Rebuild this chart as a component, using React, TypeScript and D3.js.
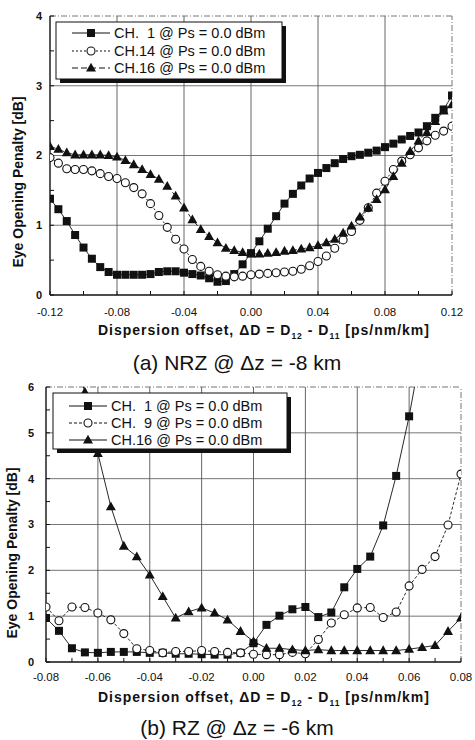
import * as d3 from "d3"

// ---- data (a) NRZ @ dz = -8 km ----
const xsA = d3.range(49).map((i) => -0.12 + i * 0.005)
const ch1A = [1.38, 1.23, 1.06, 0.86, 0.68, 0.52, 0.4, 0.33, 0.29, 0.29, 0.29, 0.29, 0.3, 0.33, 0.34, 0.34, 0.32, 0.3, 0.28, 0.24, 0.19, 0.2, 0.3, 0.44, 0.6, 0.77, 0.95, 1.13, 1.31, 1.45, 1.57, 1.67, 1.75, 1.82, 1.89, 1.95, 1.99, 2.01, 2.04, 2.07, 2.12, 2.17, 2.23, 2.28, 2.33, 2.42, 2.54, 2.66, 2.86]
const ch14A = [1.97, 1.89, 1.81, 1.8, 1.8, 1.78, 1.74, 1.7, 1.67, 1.61, 1.54, 1.45, 1.31, 1.14, 0.97, 0.8, 0.66, 0.51, 0.41, 0.34, 0.29, 0.27, 0.26, 0.27, 0.29, 0.3, 0.31, 0.32, 0.33, 0.34, 0.37, 0.42, 0.48, 0.56, 0.67, 0.79, 0.91, 1.07, 1.25, 1.46, 1.63, 1.8, 1.92, 2.01, 2.11, 2.21, 2.29, 2.35, 2.42]
const ch16A = [2.13, 2.09, 2.04, 2.01, 2.01, 2.01, 2.01, 2.0, 1.98, 1.93, 1.87, 1.8, 1.73, 1.66, 1.56, 1.42, 1.25, 1.08, 0.94, 0.84, 0.75, 0.67, 0.64, 0.61, 0.59, 0.59, 0.6, 0.61, 0.63, 0.64, 0.66, 0.68, 0.71, 0.75, 0.8, 0.89, 0.99, 1.12, 1.25, 1.37, 1.51, 1.7, 1.89, 2.06, 2.21, 2.33, 2.49, 2.64, 2.73]
const ticksXA = [-0.12, -0.08, -0.04, 0, 0.04, 0.08, 0.12]
const ticksYA = [0, 1, 2, 3, 4]

// ---- data (b) RZ @ dz = -6 km ----
const xsB = d3.range(33).map((i) => -0.08 + i * 0.005)
const ch1B = [0.96, 0.68, 0.3, 0.21, 0.2, 0.22, 0.22, 0.22, 0.2, 0.2, 0.18, 0.18, 0.17, 0.16, 0.16, 0.2, 0.41, 0.81, 1.01, 1.15, 1.2, 0.98, 1.08, 1.63, 2.03, 2.3, 2.98, 4.06, 5.36, 6.9]
const ch9B = [1.2, 0.9, 1.2, 1.19, 1.07, 0.92, 0.62, 0.29, 0.25, 0.2, 0.23, 0.23, 0.25, 0.23, 0.21, 0.2, 0.17, 0.16, 0.16, 0.21, 0.18, 0.49, 0.85, 1.03, 1.18, 1.19, 0.97, 1.09, 1.66, 2.02, 2.3, 2.99, 4.1]
const ch16B = [null, null, 6.8, 5.89, 4.55, 3.39, 2.53, 2.3, 1.9, 1.43, 0.96, 1.1, 1.18, 1.07, 0.92, 0.67, 0.45, 0.3, 0.3, 0.27, 0.25, 0.27, 0.25, 0.25, 0.25, 0.25, 0.25, 0.25, 0.28, 0.32, 0.36, 0.67, 0.96]
const ticksXB = [-0.08, -0.06, -0.04, -0.02, 0, 0.02, 0.04, 0.06, 0.08]
const ticksYB = [0, 1, 2, 3, 4, 5, 6]

type Pt = { x: number; y: number }
type Series = { label: string; values: (number | null)[]; marker: "square" | "circle" | "triangle"; dash: string }

const seriesA: Series[] = [
  { label: "CH.  1 @ Ps = 0.0 dBm", values: ch1A, marker: "square", dash: "none" },
  { label: "CH.14 @ Ps = 0.0 dBm", values: ch14A, marker: "circle", dash: "2,2" },
  { label: "CH.16 @ Ps = 0.0 dBm", values: ch16A, marker: "triangle", dash: "6,3" },
]
const seriesB: Series[] = [
  { label: "CH.  1 @ Ps = 0.0 dBm", values: ch1B, marker: "square", dash: "none" },
  { label: "CH.  9 @ Ps = 0.0 dBm", values: ch9B, marker: "circle", dash: "3,2" },
  { label: "CH.16 @ Ps = 0.0 dBm", values: ch16B, marker: "triangle", dash: "none" },
]

const FONT = "'Liberation Sans', Arial, sans-serif"

function Marker({ kind, x, y, s }: { kind: string; x: number; y: number; s: number }) {
  if (kind === "square") return <rect x={x - s / 2} y={y - s / 2} width={s} height={s} fill="#111" />
  if (kind === "circle") return <circle cx={x} cy={y} r={s / 2} fill="#fff" stroke="#111" strokeWidth={1.1} />
  return <path d={`M${x},${y - s * 0.65}L${x + s * 0.62},${y + s * 0.45}L${x - s * 0.62},${y + s * 0.45}Z`} fill="#111" />
}

function Panel(props: {
  id: string
  xs: number[]
  series: Series[]
  xDomain: [number, number]
  yDomain: [number, number]
  xRange: [number, number]
  yRange: [number, number]
  xTicks: number[]
  yTicks: number[]
  xMinorStep: number
  yMinorStep: number
  mSize: number
  legend: { x: number; y: number; w: number; h: number; rowY: number[] }
  yLabelX: number
  xTickY: number
  xTitleY: number
  yTitleX: number
  yTitleY: number
  caption: string
  captionY: number
}) {
  const { xs, series, xTicks, yTicks } = props
  const x = d3.scaleLinear().domain(props.xDomain).range(props.xRange)
  const y = d3.scaleLinear().domain(props.yDomain).range(props.yRange)
  const [x0, x1] = props.xRange
  const [y0, y1] = props.yRange
  const line = d3
    .line<Pt>()
    .x((d) => x(d.x))
    .y((d) => y(d.y))
  const minorX = d3.range(props.xDomain[0], props.xDomain[1] + 1e-9, props.xMinorStep)
  const minorY = d3.range(props.yDomain[0], props.yDomain[1] + 1e-9, props.yMinorStep)
  const lg = props.legend
  return (
    <g fontFamily={FONT}>
      <defs>
        <clipPath id={`clip-${props.id}`}>
          <rect x={x0} y={y1} width={x1 - x0} height={y0 - y1} />
        </clipPath>
      </defs>
      {/* grid */}
      {yTicks.slice(1, -1).map((t) => (
        <line key={`gy${t}`} x1={x0} x2={x1} y1={y(t)} y2={y(t)} stroke="#666" strokeWidth={0.9} />
      ))}
      {xTicks.slice(1, -1).map((t) => (
        <line key={`gx${t}`} x1={x(t)} x2={x(t)} y1={y0} y2={y1} stroke="#555" strokeWidth={0.9} />
      ))}
      {/* frame */}
      <line x1={x0} x2={x1} y1={y1} y2={y1} stroke="#777" strokeDasharray="6,2,1,2" />
      <line x1={x1} x2={x1} y1={y0} y2={y1} stroke="#777" strokeDasharray="6,2,1,2" />
      <line x1={x0} x2={x0} y1={y0} y2={y1} stroke="#111" strokeWidth={1.4} />
      <line x1={x0} x2={x1} y1={y0} y2={y0} stroke="#111" strokeWidth={1.4} />
      {minorX.map((t, i) => (
        <line key={`mx${i}`} x1={x(t)} x2={x(t)} y1={y0} y2={y0 - 4} stroke="#111" />
      ))}
      {minorY.map((t, i) => (
        <line key={`my${i}`} x1={x0} x2={x0 + 4} y1={y(t)} y2={y(t)} stroke="#111" />
      ))}
      {/* series */}
      <g clipPath={`url(#clip-${props.id})`}>
        {series.map((s) => {
          const pts: Pt[] = xs
            .map((xv, i) => ({ x: xv, y: s.values[i] as number }))
            .filter((p) => p.y !== null && p.y !== undefined)
          return (
            <g key={s.label}>
              <path d={line(pts) ?? ""} fill="none" stroke="#111" strokeWidth={0.9} strokeDasharray={s.dash} />
              {pts.map((p, i) => (
                <Marker key={i} kind={s.marker} x={x(p.x)} y={y(p.y)} s={props.mSize} />
              ))}
            </g>
          )
        })}
      </g>
      {/* legend */}
      <rect x={lg.x + 4} y={lg.y + 4} width={lg.w} height={lg.h} fill="#111" />
      <rect x={lg.x} y={lg.y} width={lg.w} height={lg.h} fill="#fff" stroke="#111" strokeWidth={1} />
      {series.map((s, i) => (
        <g key={`lg${i}`}>
          <line x1={lg.x + 16} x2={lg.x + 54} y1={lg.rowY[i]} y2={lg.rowY[i]} stroke="#111" strokeWidth={1} strokeDasharray={s.dash} />
          <Marker kind={s.marker} x={lg.x + 35} y={lg.rowY[i]} s={props.mSize} />
          <text x={lg.x + 58} y={lg.rowY[i]} dy="0.36em" fontSize={14.5} style={{ whiteSpace: "pre" }} fill="#111">
            {s.label}
          </text>
        </g>
      ))}
      {/* tick labels */}
      {yTicks.map((t) => (
        <text key={`yl${t}`} x={props.yLabelX} y={y(t)} dy="0.35em" textAnchor="end" fontSize={11} fontWeight="bold" fill="#111">
          {t}
        </text>
      ))}
      {xTicks.map((t) => (
        <text key={`xl${t}`} x={x(t)} y={props.xTickY} dy="0.35em" textAnchor="middle" fontSize={11.5} fill="#111">
          {t.toFixed(2)}
        </text>
      ))}
      {/* axis titles */}
      <text x={264} y={props.xTitleY} textAnchor="middle" fontSize={14} fontWeight="bold" letterSpacing={1} fill="#111" style={{ whiteSpace: "pre" }}>
        {"Dispersion offset, \u0394D = D"}
        <tspan fontSize={8.5} dy={4}>12</tspan>
        <tspan dy={-4}>{" - D"}</tspan>
        <tspan fontSize={8.5} dy={4}>11</tspan>
        <tspan dy={-4}>{" [ps/nm/km]"}</tspan>
      </text>
      <text
        transform={`translate(${props.yTitleX},${props.yTitleY}) rotate(-90)`}
        textAnchor="middle"
        dy="0.35em"
        fontSize={14}
        fontWeight="bold"
        fill="#111"
      >
        Eye Opening Penalty [dB]
      </text>
      <text x={237} y={props.captionY} dy="0.35em" textAnchor="middle" fontSize={21} fill="#111">
        {props.caption}
      </text>
    </g>
  )
}

export default function App() {
  return (
    <svg width={475} height={740} style={{ position: "absolute", left: 0, top: 0, background: "#fff" }}>
      <rect width={475} height={740} fill="#fff" />
      <Panel
        id="a"
        xs={xsA}
        series={seriesA}
        xDomain={[-0.12, 0.12]}
        yDomain={[0, 4]}
        xRange={[50, 452]}
        yRange={[295, 16]}
        xTicks={ticksXA}
        yTicks={ticksYA}
        xMinorStep={0.02}
        yMinorStep={0.5}
        mSize={8}
        legend={{ x: 56, y: 22, w: 226, h: 57, rowY: [33, 51, 68] }}
        yLabelX={42}
        xTickY={312}
        xTitleY={335}
        yTitleX={18}
        yTitleY={182}
        caption={"(a) NRZ @ \u0394z = -8 km"}
        captionY={363}
      />
      <Panel
        id="b"
        xs={xsB}
        series={seriesB}
        xDomain={[-0.08, 0.08]}
        yDomain={[0, 6]}
        xRange={[46, 461]}
        yRange={[662, 387]}
        xTicks={ticksXB}
        yTicks={ticksYB}
        xMinorStep={0.01}
        yMinorStep={0.5}
        mSize={8}
        legend={{ x: 53, y: 393, w: 234, h: 56, rowY: [406, 423, 440] }}
        yLabelX={34}
        xTickY={677}
        xTitleY={702}
        yTitleX={12}
        yTitleY={553}
        caption={"(b) RZ @ \u0394z = -6 km"}
        captionY={728}
      />
    </svg>
  )
}
